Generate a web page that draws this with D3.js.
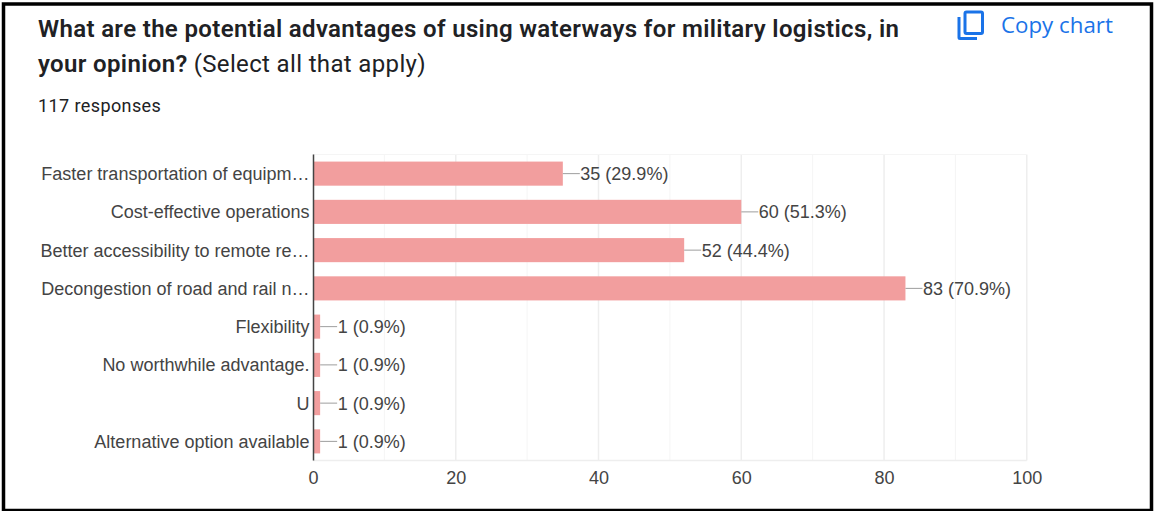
<!DOCTYPE html>
<html>
<head>
<meta charset="utf-8">
<script src="https://cdn.jsdelivr.net/npm/d3@7/dist/d3.min.js"></script>
<style>
html,body{margin:0;padding:0;background:#fff;overflow:hidden}
svg{display:block}
</style>
</head>
<body>
<svg id="chart" width="1154" height="511"></svg>
<script>
// Survey answers and their response counts
const categories = [
  "Faster transportation of equipm…",
  "Cost-effective operations",
  "Better accessibility to remote re…",
  "Decongestion of road and rail n…",
  "Flexibility",
  "No worthwhile advantage.",
  "U",
  "Alternative option available"
];
const counts = [35, 60, 52, 83, 1, 1, 1, 1];
const percents = ["29.9", "51.3", "44.4", "70.9", "0.9", "0.9", "0.9", "0.9"];
const xTicks = [0, 20, 40, 60, 80, 100];
const minorTicks = [10, 30, 50, 70, 90];

const svg = d3.select("#chart");
const sans = "Arial, 'Liberation Sans', sans-serif";
const uiFont = "Roboto, sans-serif";

// Frame around the card
svg.append("rect").attr("x", 3.5).attr("y", 4).attr("width", 1148).attr("height", 506.5)
  .attr("fill", "#fff").attr("stroke", "#000").attr("stroke-width", 3.5);

// Heading
const title = svg.append("g").attr("fill", "#202124").attr("font-family", uiFont)
  .attr("font-size", 24).attr("letter-spacing", 0.35);
title.append("text").attr("x", 38).attr("y", 36.5).attr("font-weight", 600)
  .text("What are the potential advantages of using waterways for military logistics, in");
const line2 = title.append("text").attr("x", 38).attr("y", 72);
line2.append("tspan").attr("font-weight", 600).text("your opinion?");
line2.append("tspan").attr("dx", 6).text("(Select all that apply)");
svg.append("text").attr("x", 38).attr("y", 112).attr("fill", "#202124")
  .attr("font-family", uiFont).attr("font-size", 18).attr("letter-spacing", 0.4).text("117 responses");

// Copy button
const copyIcon = svg.append("g").attr("fill", "none").attr("stroke", "#1a73e8").attr("stroke-width", 3);
copyIcon.append("rect").attr("x", 965).attr("y", 12).attr("width", 17.5).attr("height", 21.5).attr("rx", 1.5);
copyIcon.append("path").attr("d", "M959 17 V37.5 Q959 38.5 960 38.5 H977");
svg.append("text").attr("x", 1001).attr("y", 32.5).attr("fill", "#1a73e8")
  .attr("font-family", "'Open Sans', Roboto, sans-serif").attr("font-size", 22.3).text("Copy chart");

// Scales
const x = d3.scaleLinear().domain([0, 100]).range([313, 1026.8]);
const y = d3.scaleBand().domain(categories).range([154.5, 460.5]).paddingInner(0.37).paddingOuter(0.185);

// Gridlines
const grid = svg.append("g");
grid.selectAll(".minor").data(minorTicks).join("line").attr("class", "minor")
  .attr("x1", d => x(d)).attr("x2", d => x(d)).attr("y1", y.range()[0]).attr("y2", y.range()[1])
  .attr("stroke", "#f5f5f5").attr("stroke-width", 1);
grid.selectAll(".major").data(xTicks.slice(1)).join("line").attr("class", "major")
  .attr("x1", d => x(d)).attr("x2", d => x(d)).attr("y1", y.range()[0]).attr("y2", y.range()[1])
  .attr("stroke", "#eeeeee").attr("stroke-width", 1.5);
grid.append("line").attr("x1", x(0)).attr("x2", x(100)).attr("y1", y.range()[1]).attr("y2", y.range()[1])
  .attr("stroke", "#eeeeee").attr("stroke-width", 1.5);
grid.append("line").attr("x1", x(0)).attr("x2", x(100)).attr("y1", y.range()[0]).attr("y2", y.range()[0])
  .attr("stroke", "#f5f5f5").attr("stroke-width", 1);

// Bars
const rows = categories.map((c, i) => ({c, n: counts[i], p: percents[i]}));
svg.append("g").selectAll("rect").data(rows).join("rect")
  .attr("x", x(0)).attr("y", d => y(d.c))
  .attr("width", d => x(d.n) - x(0)).attr("height", y.bandwidth())
  .attr("fill", "#f29e9e");

// Leader lines and value labels
const mid = d => y(d.c) + y.bandwidth() / 2;
svg.append("g").selectAll("line").data(rows).join("line")
  .attr("x1", d => x(d.n)).attr("x2", d => x(d.n) + 17)
  .attr("y1", mid).attr("y2", mid).attr("stroke", "#9e9e9e").attr("stroke-width", 1);
svg.append("g").selectAll("text").data(rows).join("text")
  .attr("x", d => x(d.n) + 17.5).attr("y", d => mid(d) + 6.5)
  .attr("fill", "#444").attr("font-family", sans).attr("font-size", 18)
  .text(d => `${d.n} (${d.p}%)`);

// Category labels and baseline
svg.append("g").selectAll("text").data(rows).join("text")
  .attr("x", 309.5).attr("y", d => mid(d) + 6.5).attr("text-anchor", "end")
  .attr("fill", "#444").attr("font-family", sans).attr("font-size", 18)
  .text(d => d.c);
svg.append("line").attr("x1", x(0) + 0.5).attr("x2", x(0) + 0.5).attr("y1", y.range()[0]).attr("y2", y.range()[1])
  .attr("stroke", "#444").attr("stroke-width", 1.5);

// Value axis labels
const axis = svg.append("g").attr("transform", `translate(0,${y.range()[1]})`)
  .call(d3.axisBottom(x).tickValues(xTicks).tickSize(0).tickPadding(11));
axis.select(".domain").remove();
axis.selectAll("text").attr("fill", "#444").attr("font-family", sans).attr("font-size", 18);
</script>
</body>
</html>
